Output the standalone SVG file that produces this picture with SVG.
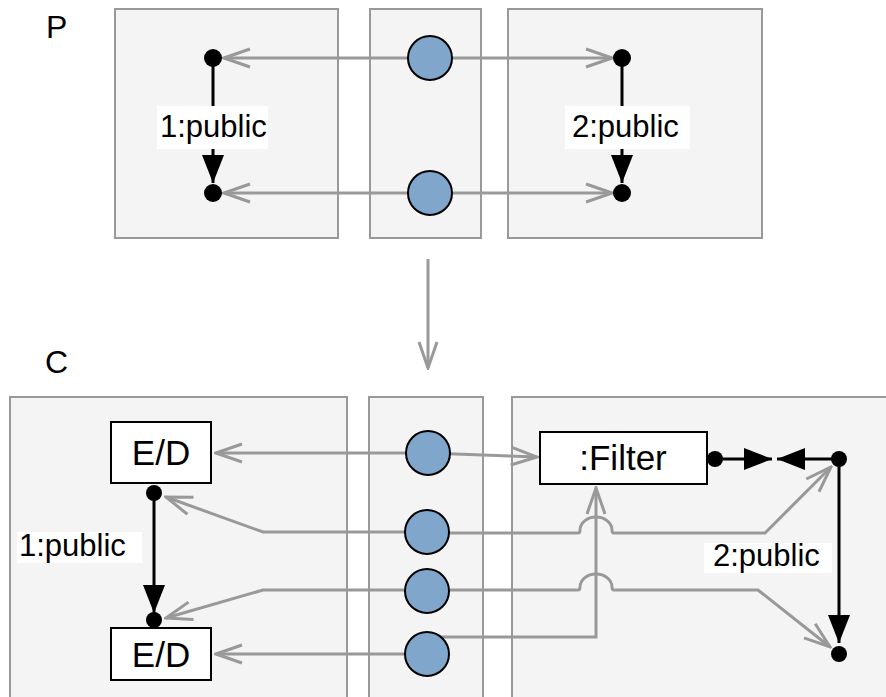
<svg xmlns="http://www.w3.org/2000/svg" width="886" height="697" viewBox="0 0 886 697">
<defs>
<style>
.box{fill:#f4f4f4;stroke:#999;stroke-width:2}
.node{fill:#fff;stroke:#000;stroke-width:2}
.port{fill:#81a6cc;stroke:#000;stroke-width:2}
.dot{fill:#000}
.g{fill:none;stroke:#999;stroke-width:3}
.k{fill:none;stroke:#000;stroke-width:3}
.lbl{fill:#fff}
text{font-family:"Liberation Sans",Arial,sans-serif;font-size:31px;fill:#000}
.nt{font-size:35px}
</style>
<marker id="open" viewBox="0 0 30 22" refX="28" refY="11" markerWidth="30" markerHeight="22" markerUnits="userSpaceOnUse" orient="auto">
<path d="M2,2 L28,11 L2,20" fill="none" stroke="#999" stroke-width="3"/>
</marker>
<marker id="solid" viewBox="0 0 28 22" refX="28" refY="11" markerWidth="28" markerHeight="22" markerUnits="userSpaceOnUse" orient="auto">
<path d="M0,0 L28,11 L0,22 Z" fill="#000"/>
</marker>
</defs>

<g id="label-P"><text x="46" y="38" style="font-size:32px">P</text></g>
<g id="label-C"><text x="45" y="373" style="font-size:32px">C</text></g>

<g id="top-left"><rect class="box" x="115" y="9" width="223" height="229"/></g>
<g id="top-mid"><rect class="box" x="370" y="9" width="111" height="229"/></g>
<g id="top-right"><rect class="box" x="508" y="9" width="254" height="229"/></g>

<g id="bot-left"><rect class="box" x="10" y="397" width="337" height="310"/></g>
<g id="bot-mid"><rect class="box" x="369" y="397" width="114" height="310"/></g>
<g id="bot-right"><rect class="box" x="512" y="397" width="390" height="310"/></g>

<g id="connectors">
<line class="g" x1="430" y1="58" x2="224" y2="58" marker-end="url(#open)"/>
<line class="g" x1="430" y1="58" x2="612" y2="58" marker-end="url(#open)"/>
<line class="g" x1="430" y1="193" x2="224" y2="193" marker-end="url(#open)"/>
<line class="g" x1="430" y1="193" x2="612" y2="193" marker-end="url(#open)"/>
<line class="k" x1="213" y1="58" x2="213" y2="183" marker-end="url(#solid)"/>
<line class="k" x1="622" y1="58" x2="622" y2="183" marker-end="url(#solid)"/>
<line class="g" x1="428" y1="259" x2="428" y2="368" marker-end="url(#open)"/>
<line class="g" x1="428" y1="453" x2="216" y2="453" marker-end="url(#open)"/>
<polyline class="g" points="427,532 263,532 166,497" marker-end="url(#open)"/>
<polyline class="g" points="427,590 263,590 166,618" marker-end="url(#open)"/>
<line class="g" x1="427" y1="654" x2="216" y2="654" marker-end="url(#open)"/>
<line class="g" x1="428" y1="453" x2="537" y2="457" marker-end="url(#open)"/>
<path class="g" d="M427,533 L578,533 Q580,533 580,530 A16,13 0 0 1 612,530 Q612,533 614,533 L765,533 L831,467" marker-end="url(#open)"/>
<path class="g" d="M427,590 L578,590 Q580,590 580,587 A16,13 0 0 1 612,587 Q612,590 614,590 L758,590 L830,647" marker-end="url(#open)"/>
<polyline class="g" points="440,637 596,637 596,488" marker-end="url(#open)"/>
<line class="k" x1="154" y1="493" x2="154" y2="613" marker-end="url(#solid)"/>
<line class="k" x1="715" y1="459" x2="772" y2="459" marker-end="url(#solid)"/>
<line class="k" x1="839" y1="459" x2="777" y2="459" marker-end="url(#solid)"/>
<line class="k" x1="839" y1="459" x2="839" y2="643" marker-end="url(#solid)"/>
</g>

<g id="ports">
<circle class="port" cx="430" cy="58" r="22"/>
<circle class="port" cx="430" cy="193" r="22"/>
<circle class="port" cx="428" cy="453" r="22"/>
<circle class="port" cx="427" cy="532" r="22"/>
<circle class="port" cx="427" cy="591" r="22"/>
<circle class="port" cx="427" cy="654" r="22"/>
</g>

<g id="dots">
<circle class="dot" cx="213" cy="58" r="9"/>
<circle class="dot" cx="213" cy="193" r="9"/>
<circle class="dot" cx="622" cy="58" r="9"/>
<circle class="dot" cx="622" cy="193" r="9"/>
<circle class="dot" cx="154" cy="493" r="8"/>
<circle class="dot" cx="154" cy="620" r="8"/>
<circle class="dot" cx="715" cy="459" r="8"/>
<circle class="dot" cx="839" cy="459" r="8"/>
<circle class="dot" cx="839" cy="654" r="8"/>
</g>

<g id="ed-top"><rect class="node" x="111" y="422" width="100" height="61"/><text class="nt" x="161" y="465" text-anchor="middle">E/D</text></g>
<g id="ed-bot"><rect class="node" x="111" y="628" width="100" height="52"/><text class="nt" x="161" y="667" text-anchor="middle">E/D</text></g>
<g id="filter"><rect class="node" x="540" y="432" width="167" height="52"/><text class="nt" x="623" y="470" text-anchor="middle">:Filter</text></g>

<g id="labels">
<rect class="lbl" x="157" y="106" width="111" height="43"/><text x="160" y="137">1:public</text>
<rect class="lbl" x="565" y="106" width="125" height="43"/><text x="572" y="137">2:public</text>
<rect class="lbl" x="17" y="532" width="125" height="31"/><text x="19" y="556">1:public</text>
<rect class="lbl" x="704" y="543" width="128" height="30"/><text x="713" y="566">2:public</text>
</g>
</svg>
